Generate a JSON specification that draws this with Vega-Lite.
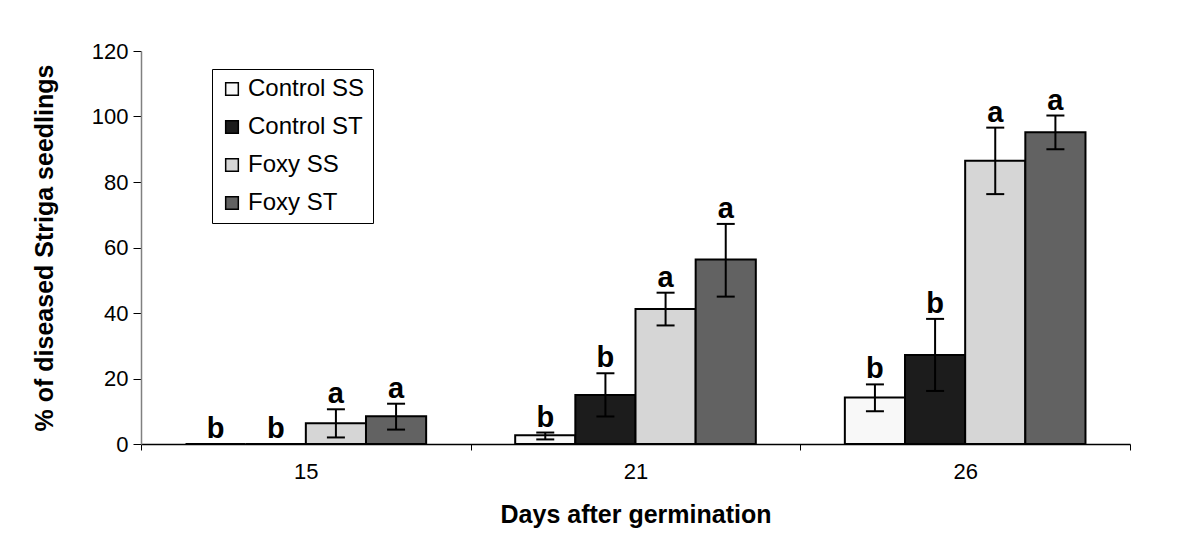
{
  "$schema": "https://vega.github.io/schema/vega-lite/v6.json",
  "autosize": {"type": "none"},
  "width": 989,
  "height": 393,
  "padding": {"left": 141, "top": 51, "right": 65, "bottom": 104},
  "background": "white",
  "config": {
    "view": {"stroke": null},
    "font": "Liberation Sans",
    "axis": {"labelFont": "Liberation Sans", "titleFont": "Liberation Sans", "labelColor": "black", "titleColor": "black", "grid": false}
  },
  "data": {
    "values": [
      {"day": "15", "treatment": "Control SS", "value": 0, "lower": 0, "upper": 0, "letter": "b"},
      {"day": "15", "treatment": "Control ST", "value": 0, "lower": 0, "upper": 0, "letter": "b"},
      {"day": "15", "treatment": "Foxy SS", "value": 6.3, "lower": 2, "upper": 10.6, "letter": "a"},
      {"day": "15", "treatment": "Foxy ST", "value": 8.5, "lower": 4.4, "upper": 12.3, "letter": "a"},
      {"day": "21", "treatment": "Control SS", "value": 2.7, "lower": 1.4, "upper": 3.5, "letter": "b"},
      {"day": "21", "treatment": "Control ST", "value": 15, "lower": 8.4, "upper": 21.6, "letter": "b"},
      {"day": "21", "treatment": "Foxy SS", "value": 41.2, "lower": 36.2, "upper": 46.2, "letter": "a"},
      {"day": "21", "treatment": "Foxy ST", "value": 56.3, "lower": 45, "upper": 67.2, "letter": "a"},
      {"day": "26", "treatment": "Control SS", "value": 14.2, "lower": 10, "upper": 18.2, "letter": "b"},
      {"day": "26", "treatment": "Control ST", "value": 27.2, "lower": 16.2, "upper": 38.2, "letter": "b"},
      {"day": "26", "treatment": "Foxy SS", "value": 86.5, "lower": 76.3, "upper": 96.6, "letter": "a"},
      {"day": "26", "treatment": "Foxy ST", "value": 95.2, "lower": 90, "upper": 100.3, "letter": "a"}
    ]
  },
  "encoding": {
    "x": {
      "field": "day", "type": "nominal",
      "scale": {"paddingInner": 0, "paddingOuter": 0},
      "axis": {
        "title": "Days after germination",
        "labelAngle": 0, "labelFontSize": 22, "labelPadding": 11,
        "tickBand": "extent", "tickSize": 6, "tickColor": "black",
        "domainColor": "black", "domainWidth": 1.5,
        "titleFontSize": 25, "titleFontWeight": "bold", "titlePadding": 20
      }
    },
    "xOffset": {
      "field": "treatment", "type": "nominal",
      "sort": ["Control SS", "Control ST", "Foxy SS", "Foxy ST"],
      "scale": {"paddingInner": 0, "paddingOuter": 0.74}
    }
  },
  "layer": [
    {
      "mark": {"type": "bar", "stroke": "black", "strokeWidth": 2, "opacity": 1},
      "encoding": {
        "y": {
          "field": "value", "type": "quantitative",
          "scale": {"domain": [0, 120], "nice": false},
          "axis": {
            "title": "% of diseased Striga seedlings",
            "values": [0, 20, 40, 60, 80, 100, 120],
            "labelFontSize": 22, "labelPadding": 5,
            "tickSize": 8, "tickColor": "black",
            "domainColor": "#808080", "domainWidth": 1.5,
            "titleFontSize": 25, "titleFontWeight": "bold", "titlePadding": 34
          }
        },
        "color": {
          "field": "treatment", "type": "nominal",
          "sort": ["Control SS", "Control ST", "Foxy SS", "Foxy ST"],
          "scale": {"domain": ["Control SS", "Control ST", "Foxy SS", "Foxy ST"], "range": ["#f8f8f8", "#1c1c1c", "#d6d6d6", "#626262"]},
          "legend": {
            "title": null,
            "orient": "none", "legendX": 71, "legendY": 18,
            "direction": "vertical",
            "symbolType": "square", "symbolSize": 160,
            "symbolStrokeColor": "black", "symbolStrokeWidth": 1.5, "symbolOpacity": 1,
            "labelFontSize": 24, "labelColor": "black", "labelOffset": 4,
            "rowPadding": 14, "padding": 8,
            "strokeColor": "black", "fillColor": "white"
          }
        }
      }
    },
    {
      "mark": {"type": "rule", "color": "black", "strokeWidth": 2},
      "encoding": {
        "y": {"field": "lower", "type": "quantitative"},
        "y2": {"field": "upper"}
      }
    },
    {
      "mark": {"type": "tick", "color": "black", "size": 18, "thickness": 2, "opacity": 1},
      "encoding": {"y": {"field": "upper", "type": "quantitative"}}
    },
    {
      "mark": {"type": "tick", "color": "black", "size": 18, "thickness": 2, "opacity": 1},
      "encoding": {"y": {"field": "lower", "type": "quantitative"}}
    },
    {
      "mark": {"type": "text", "fontSize": 29, "fontWeight": "bold", "baseline": "alphabetic", "dy": -6, "color": "black"},
      "encoding": {
        "y": {"field": "upper", "type": "quantitative"},
        "text": {"field": "letter"}
      }
    }
  ]
}
